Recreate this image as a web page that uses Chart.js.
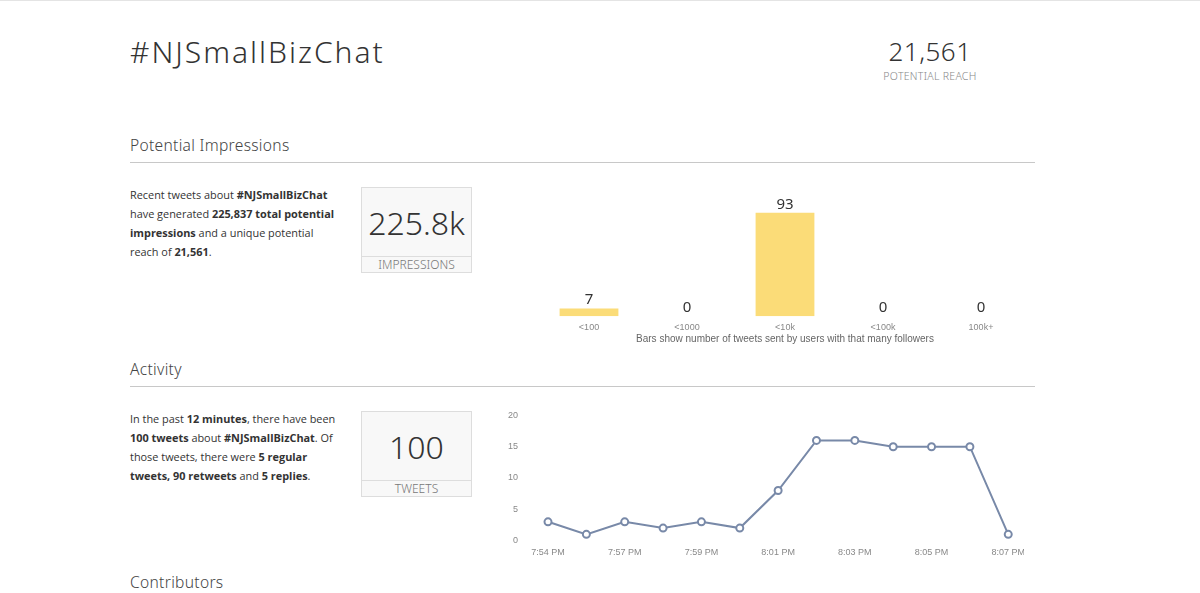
<!DOCTYPE html>
<html>
<head>
<meta charset="utf-8">
<script src="https://cdn.jsdelivr.net/npm/chart.js@4"></script>
<style>
  body { margin: 0; width: 1200px; height: 593px; background: #fff; position: relative; overflow: hidden;
         font-family: "Open Sans", sans-serif; color: #444; border-top: 1px solid #e4e4e4; box-sizing: border-box; }
  .abs { position: absolute; }
  .head { font-family: "Noto Sans", sans-serif; font-weight: 300; }
  h1 { margin: 0; font-size: 30px; font-weight: 300; left: 130px; top: 30px; color: #333; letter-spacing: 2px; }
  .reach { left: 860px; top: 33px; width: 140px; text-align: center; }
  .reach .n { font-size: 26px; color: #333; line-height: 35px; letter-spacing: 0.5px; }
  .reach .l { font-size: 10.5px; color: #888; letter-spacing: 0.3px; }
  .sec { left: 130px; width: 905px; font-size: 15.6px; letter-spacing: 0.3px; color: #444; border-bottom: 1px solid #c8c8c8; padding-bottom: 6px; }
  .txt { left: 130px; width: 210px; font-size: 10.9px; line-height: 19px; color: #333; }
  .box { width: 109px; height: 84px; background: #f8f8f8; border: 1px solid #ddd; }
  .box .n { height: 68px; line-height: 70px; text-align: center; font-size: 32px; color: #333; }
  .box .l { border-top: 1px solid #ddd; height: 15px; line-height: 15px; text-align: center; font-size: 12px; color: #777; }
</style>
</head>
<body>
<h1 class="abs head">#NJSmallBizChat</h1>
<div class="abs reach head"><div class="n">21,561</div><div class="l">POTENTIAL REACH</div></div>

<div class="abs sec head" style="top:133px">Potential Impressions</div>
<div class="abs txt" style="top:184px">Recent tweets about <b>#NJSmallBizChat</b> have generated <b>225,837 total potential impressions</b> and a unique potential reach of <b>21,561</b>.</div>
<div class="abs box head" style="left:361px;top:186px"><div class="n">225.8k</div><div class="l">IMPRESSIONS</div></div>
<div class="abs" style="left:540px;top:190px;width:490px;height:158px"><canvas id="barChart"></canvas></div>

<div class="abs sec head" style="top:357px">Activity</div>
<div class="abs txt" style="top:408px">In the past <b>12 minutes</b>, there have been <b>100 tweets</b> about <b>#NJSmallBizChat</b>. Of those tweets, there were <b>5 regular tweets, 90 retweets</b> and <b>5 replies</b>.</div>
<div class="abs box head" style="left:361px;top:410px"><div class="n">100</div><div class="l">TWEETS</div></div>
<div class="abs" style="left:486px;top:387px;width:538px;height:180px"><canvas id="lineChart"></canvas></div>

<div class="abs head" style="left:130px;top:570px;font-size:15.6px;letter-spacing:0.3px;color:#444">Contributors</div>

<script>
const followerBuckets = ['<100', '<1000', '<10k', '<100k', '100k+'];
const tweetsByBucket = [7, 0, 93, 0, 0];

const timeLabels = ['7:54 PM', '7:56 PM', '7:57 PM', '7:58 PM', '7:59 PM', '8:00 PM', '8:01 PM',
                    '8:02 PM', '8:03 PM', '8:04 PM', '8:05 PM', '8:06 PM', '8:07 PM'];
const tweetsPerMinute = [3, 1, 3, 2, 3, 2, 8, 16, 16, 15, 15, 15, 1];
const activityTicks = [0, 5, 10, 15, 20];

Chart.defaults.font.family = 'Arial, "Liberation Sans", sans-serif';
Chart.defaults.color = '#888';

// writes the count above each bar
const barValues = {
  id: 'barValues',
  afterDatasetsDraw(chart) {
    const ctx = chart.ctx;
    const meta = chart.getDatasetMeta(0);
    ctx.save();
    ctx.font = '15px "Noto Sans", sans-serif';
    ctx.fillStyle = '#333';
    ctx.textAlign = 'center';
    ctx.textBaseline = 'bottom';
    meta.data.forEach((bar, i) => {
      ctx.fillText(String(tweetsByBucket[i]), bar.x, bar.y - 1);
    });
    ctx.restore();
  }
};

new Chart(document.getElementById('barChart'), {
  type: 'bar',
  data: {
    labels: followerBuckets,
    datasets: [{
      data: tweetsByBucket,
      backgroundColor: '#fbdc78',
      barPercentage: 0.6,
      categoryPercentage: 1
    }]
  },
  options: {
    responsive: true,
    maintainAspectRatio: false,
    animation: false,
    layout: { padding: { top: 14 } },
    plugins: { legend: { display: false }, tooltip: { enabled: false } },
    scales: {
      x: {
        grid: { display: false },
        border: { display: false },
        ticks: { font: { size: 9 }, color: '#888', padding: -2 },
        title: { display: true, text: 'Bars show number of tweets sent by users with that many followers',
                 font: { size: 10 }, color: '#666', padding: { top: 2, bottom: 4 } }
      },
      y: { display: false, min: 0, max: 100 }
    }
  },
  plugins: [barValues]
});

new Chart(document.getElementById('lineChart'), {
  type: 'line',
  data: {
    labels: timeLabels,
    datasets: [{
      data: tweetsPerMinute,
      borderColor: '#7889a8',
      borderWidth: 2,
      pointRadius: 3.5,
      pointBorderWidth: 2,
      pointBackgroundColor: '#fff',
      pointBorderColor: '#7889a8',
      tension: 0,
      fill: false
    }]
  },
  options: {
    responsive: true,
    maintainAspectRatio: false,
    animation: false,
    plugins: { legend: { display: false }, tooltip: { enabled: false } },
    scales: {
      x: {
        grid: { display: false },
        border: { display: false },
        ticks: {
          autoSkip: false, maxRotation: 0, font: { size: 9 }, color: '#888', padding: -1,
          callback: (v, i) => (i % 2 === 0 ? timeLabels[i] : '')
        }
      },
      y: {
        min: activityTicks[0],
        max: activityTicks[activityTicks.length - 1],
        grid: { display: false },
        border: { display: false },
        afterBuildTicks: axis => { axis.ticks = activityTicks.map(v => ({ value: v })); },
        ticks: { font: { size: 9 }, color: '#888', padding: 22 }
      }
    }
  }
});
</script>
</body>
</html>
